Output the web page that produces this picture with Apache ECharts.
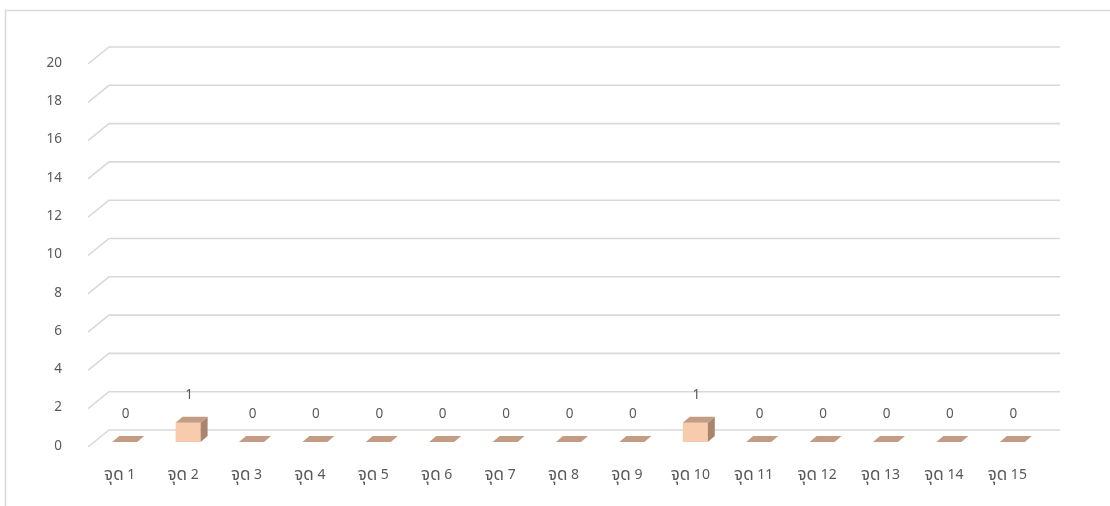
<!DOCTYPE html>
<html><head><meta charset="utf-8">
<script src="https://cdn.jsdelivr.net/npm/echarts@6/dist/echarts.min.js"></script>
<style>html,body{margin:0;padding:0;background:#fff}#c{width:1110px;height:506px}</style>
</head><body><div id="c"></div>
<script>
const categories = ['จุด 1','จุด 2','จุด 3','จุด 4','จุด 5','จุด 6','จุด 7','จุด 8','จุด 9','จุด 10','จุด 11','จุด 12','จุด 13','จุด 14','จุด 15'];
const values = [0,1,0,0,0,0,0,0,0,1,0,0,0,0,0];
const yTicks = [0,2,4,6,8,10,12,14,16,18,20];

const FONT = "'Noto Sans Thai','Noto Sans','Leelawadee UI',Tahoma,sans-serif";
const WALL_DX = 21, WALL_DY = -17;   // depth of the back wall
const BAR_DX = 7, BAR_DY = -6;       // depth of each box
const BAR_W = 25, BAR_SHIFT = 5, BAR_LIFT = 5;

const chart = echarts.init(document.getElementById('c'), null, {renderer:'canvas'});

function gridRender(params, api){
  const cs = params.coordSys;
  const y = api.coord([0, api.value(1)])[1];
  const x0 = cs.x, x1 = cs.x + cs.width;
  return {type:'polyline', shape:{points:[[x0,y],[x0+WALL_DX,y+WALL_DY],[x1+WALL_DX,y+WALL_DY]]},
    style:{stroke:'#D9D9D9', lineWidth:1.6, fill:null}, silent:true};
}

function barRender(params, api){
  const i = api.value(0), v = api.value(1);
  const base = api.coord([i, 0]);
  const top = api.coord([i, v]);
  const cx = base[0] + BAR_SHIFT;
  const by = base[1] - BAR_LIFT;
  const ty = top[1] - BAR_LIFT;
  const l = cx - BAR_W/2, r = cx + BAR_W/2;
  const children = [];
  if (v > 0) {
    children.push({type:'rect', shape:{x:l, y:ty, width:BAR_W, height:by-ty}, style:{fill:'#F8CBAD'}});
    children.push({type:'polygon', shape:{points:[[r,ty],[r+BAR_DX,ty+BAR_DY],[r+BAR_DX,by+BAR_DY],[r,by]]}, style:{fill:'#A9856F'}});
  }
  children.push({type:'polygon', shape:{points:[[l,ty],[r,ty],[r+BAR_DX,ty+BAR_DY],[l+BAR_DX,ty+BAR_DY]]}, style:{fill:'#C49C84'}});
  children.push({type:'text', x:cx+1, y:ty-27, style:{text:String(v), fill:'#595959', fontSize:13.5, fontFamily:FONT, align:'center', verticalAlign:'middle'}});
  return {type:'group', children};
}

chart.setOption({
  animation:false,
  backgroundColor:'#fff',
  graphic:[{type:'rect', shape:{x:5.5, y:10.5, width:1200, height:600}, style:{fill:null, stroke:'#D9D9D9', lineWidth:1.5}, silent:true, z:-10}],
  grid:{left:88, right:71, top:64, bottom:59},
  xAxis:{type:'category', data:categories,
    axisLine:{show:false}, axisTick:{show:false}, splitLine:{show:false},
    axisLabel:{color:'#595959', fontSize:14, fontFamily:FONT, margin:21, interval:0,
      formatter:function(s){const p=s.split(' ');return '{t|'+p[0]+'} {n|'+p[1]+'}';},
      rich:{t:{fontSize:17, color:'#595959', fontFamily:FONT}, n:{fontSize:14, color:'#595959', fontFamily:FONT}}}},
  yAxis:{type:'value', min:0, max:20, interval:2,
    axisLine:{show:false}, axisTick:{show:false}, splitLine:{show:false},
    axisLabel:{color:'#595959', fontSize:13.5, fontFamily:FONT, margin:26}},
  series:[
    {type:'custom', name:'grid', renderItem:gridRender, data:yTicks.map(t=>[0,t]), z:1, silent:true},
    {type:'custom', name:'bars', renderItem:barRender, data:values.map((v,i)=>[i,v]), z:2}
  ]
});
</script></body></html>
